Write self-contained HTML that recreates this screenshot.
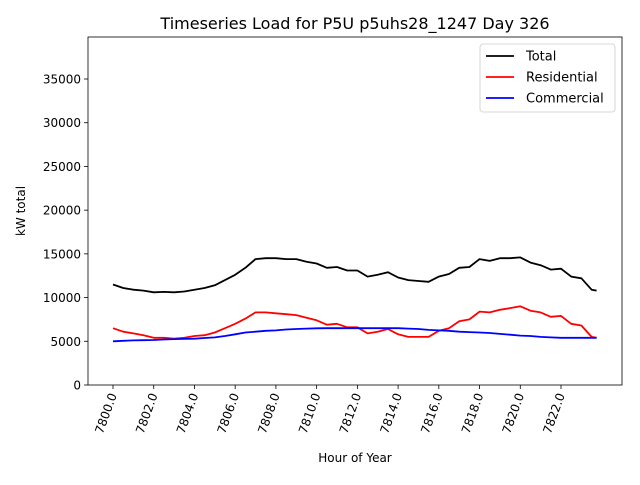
<!DOCTYPE html>
<html><head><meta charset="utf-8"><style>
body{margin:0;background:#fff;font-family:"Liberation Sans","DejaVu Sans",sans-serif}
svg text{font-family:"DejaVu Sans","Liberation Sans",sans-serif;fill:#000}
</style></head><body>
<svg id="chart" width="640" height="480" xmlns="http://www.w3.org/2000/svg"></svg>
<script>
const hours=[7800,7800.5,7801,7801.5,7802,7802.5,7803,7803.5,7804,7804.5,7805,7805.5,7806,7806.5,7807,7807.5,7808,7808.5,7809,7809.5,7810,7810.5,7811,7811.5,7812,7812.5,7813,7813.5,7814,7814.5,7815,7815.5,7816,7816.5,7817,7817.5,7818,7818.5,7819,7819.5,7820,7820.5,7821,7821.5,7822,7822.5,7823,7823.5,7823.75];
const residential=[6500,6100,5900,5700,5400,5400,5300,5400,5600,5700,6000,6500,7000,7600,8300,8300,8200,8100,8000,7700,7400,6900,7000,6600,6600,5900,6100,6400,5800,5500,5500,5500,6200,6500,7300,7500,8400,8300,8600,8800,9000,8500,8300,7800,7900,7000,6800,5500,5400];
const commercial=[5000,5050,5100,5120,5150,5200,5250,5270,5300,5380,5450,5600,5800,6000,6100,6200,6250,6350,6400,6450,6480,6500,6500,6500,6500,6500,6500,6500,6500,6450,6400,6300,6250,6200,6100,6050,6000,5950,5850,5750,5650,5600,5500,5450,5400,5400,5400,5400,5400];
const total=[11500,11100,10900,10800,10600,10650,10600,10700,10900,11100,11400,12000,12600,13400,14400,14500,14500,14400,14400,14100,13900,13400,13500,13100,13100,12400,12600,12900,12300,12000,11900,11800,12400,12700,13400,13500,14400,14200,14500,14500,14600,14000,13700,13200,13300,12400,12200,10900,10800];
const xTicks=[7800,7802,7804,7806,7808,7810,7812,7814,7816,7818,7820,7822];
const yTicks=[0,5000,10000,15000,20000,25000,30000,35000];

const NS="http://www.w3.org/2000/svg";
const svg=document.getElementById('chart');
const L=88,R=622,T=37,B=385;
const X=h=>113+(h-7800)*20.364;
const Y=v=>385-v*(306/35000);
function mk(tag,attrs,parent){const e=document.createElementNS(NS,tag);for(const k in attrs)e.setAttribute(k,attrs[k]);(parent||svg).appendChild(e);return e;}

const title=mk('text',{x:355,y:29,'font-size':16,'text-anchor':'middle'});


title.textContent='Timeseries Load for P5U p5uhs28_1247  Day 326';

yTicks.forEach(v=>{
  const g=mk('g',{});
  
  
  mk('line',{x1:L-4,x2:L,y1:Y(v),y2:Y(v),stroke:'#000','stroke-width':0.8},g);
  const t=mk('text',{x:L-7,y:Y(v)+4.5,'font-size':12,'text-anchor':'end'},g);t.textContent=v;
});
xTicks.forEach(h=>{
  const g=mk('g',{});
  
  
  mk('line',{x1:X(h),x2:X(h),y1:B,y2:B+4,stroke:'#000','stroke-width':0.8},g);
  const t=mk('text',{x:0,y:0,'font-size':12,'text-anchor':'end',transform:`translate(${X(h)+4},${B+10}) rotate(-70)`},g);t.textContent=h.toFixed(1);
});
const yl=mk('text',{x:0,y:0,'font-size':12,'text-anchor':'middle',transform:`translate(25,${(T+B)/2}) rotate(-90)`});


yl.textContent='kW total';
const xl=mk('text',{x:(L+R)/2,y:462,'font-size':12,'text-anchor':'middle'});


xl.textContent='Hour of Year';

function line(vals,color,name){
  const p=mk('polyline',{points:vals.map((v,i)=>X(hours[i]).toFixed(1)+','+Y(v).toFixed(1)).join(' '),fill:'none',stroke:color,'stroke-width':1.8,'stroke-linejoin':'round'});
  
  
}
line(total,'#000','total-line');
line(residential,'#f00','residential-line');
line(commercial,'#00f','commercial-line');

const frame=mk('rect',{x:L,y:T,width:R-L,height:B-T,fill:'none',stroke:'#000','stroke-width':0.8});



const lg=mk('g',{});


mk('rect',{x:480,y:44,width:135,height:68,rx:3,fill:'#fff',stroke:'#ccc','stroke-width':0.8},lg);
[['Total','#000'],['Residential','#f00'],['Commercial','#00f']].forEach((e,i)=>{
  const y=56+i*21;
  const g=mk('g',{},lg);
  
  
  mk('line',{x1:486,x2:514,y1:y,y2:y,stroke:e[1],'stroke-width':1.8},g);
  const t=mk('text',{x:526,y:y+4.5,'font-size':13},g);t.textContent=e[0];
});
</script>
</body></html>
